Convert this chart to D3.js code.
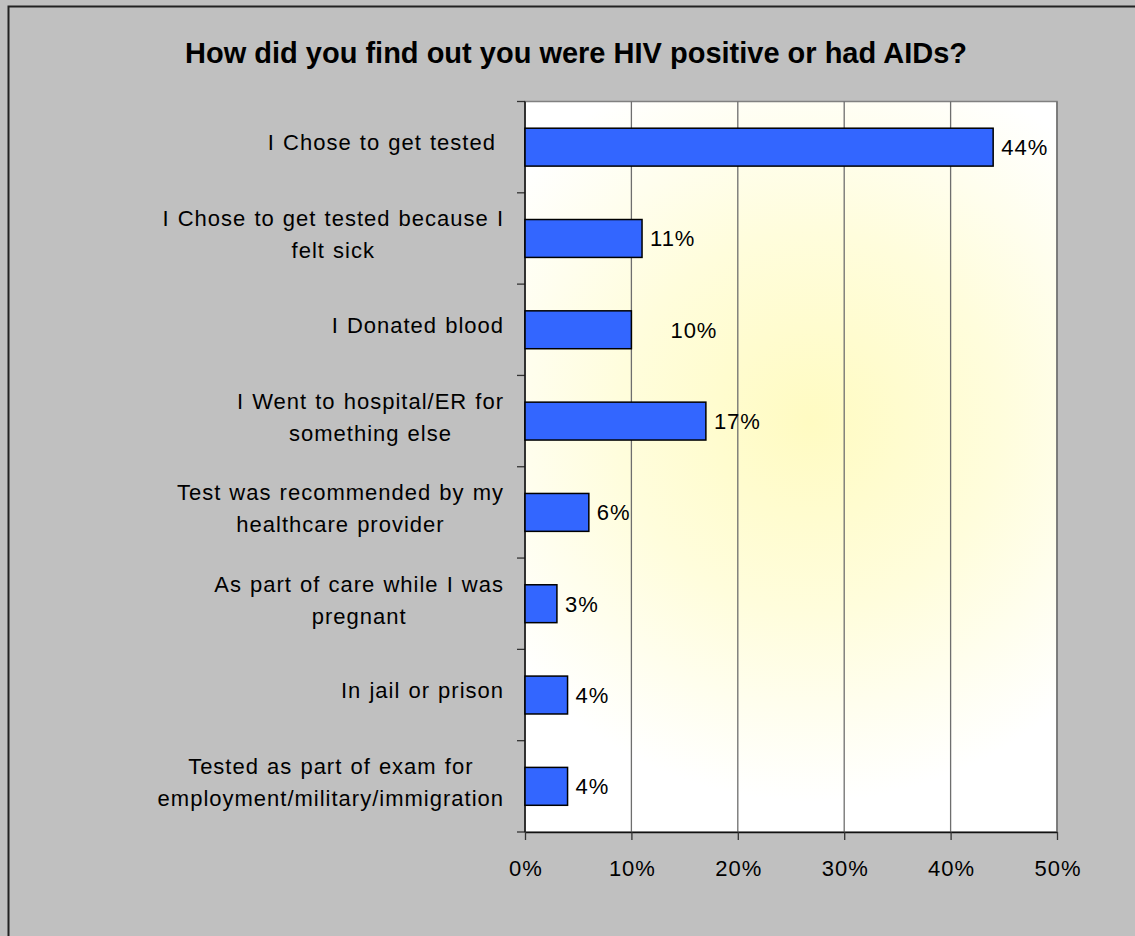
<!DOCTYPE html>
<html>
<head>
<meta charset="utf-8">
<script src="https://cdn.jsdelivr.net/npm/d3@7"></script>
<style>
  html, body { margin: 0; padding: 0; background: #c0c0c0; }
  svg { display: block; font-family: "Liberation Sans", Arial, sans-serif; }
</style>
</head>
<body>
<svg id="chart" width="1135" height="936"></svg>
<script>
const title = 'How did you find out you were HIV positive or had AIDs?';

const categories = [
  'I Chose to get tested ',
  'I Chose to get tested because I\nfelt sick',
  'I Donated blood',
  'I Went to hospital/ER for\nsomething else',
  'Test was recommended by my\nhealthcare provider',
  'As part of care while I was\npregnant',
  'In jail or prison',
  'Tested as part of exam for\nemployment/military/immigration'
];

const values = [44, 11, 10, 17, 6, 3, 4, 4];

const tickValues = [0, 10, 20, 30, 40, 50];

const data = categories.map((c, i) => ({ label: c, value: values[i] }));

const margin = { top: 101.5, right: 78, bottom: 104, left: 525 };
const fullWidth = 1135;
const fullHeight = 936;
const width = fullWidth - margin.left - margin.right;
const height = fullHeight - margin.top - margin.bottom;

const svg = d3.select('#chart');

// frame
svg.append('rect')
    .attr('x', 8.5)
    .attr('y', 6.5)
    .attr('width', 1200)
    .attr('height', 1000)
    .attr('fill', '#c0c0c0')
    .attr('stroke', '#222')
    .attr('stroke-width', 2);

svg.append('text')
    .attr('x', 576)
    .attr('y', 63)
    .attr('text-anchor', 'middle')
    .style('font-weight', 'bold')
    .style('font-size', '29px')
    .text(title);

const defs = svg.append('defs');
const grad = defs.append('radialGradient')
    .attr('id', 'glow')
    .attr('gradientUnits', 'userSpaceOnUse')
    .attr('cx', margin.left + 285)
    .attr('cy', margin.top + 320)
    .attr('r', 380);
grad.append('stop').attr('offset', '0%').attr('stop-color', '#fffbc2');
grad.append('stop').attr('offset', '50%').attr('stop-color', '#fffddc');
grad.append('stop').attr('offset', '100%').attr('stop-color', '#ffffff');

const g = svg.append('g')
    .attr('transform', `translate(${margin.left}, ${margin.top})`);

const x = d3.scaleLinear()
    .domain([0, 50])
    .range([0, width]);

const y = d3.scaleBand()
    .domain(d3.range(categories.length))
    .range([0, height])
    .paddingInner(0.585)
    .paddingOuter(0.2925);

// plot area
g.append('rect')
    .attr('width', width)
    .attr('height', height)
    .attr('fill', 'url(#glow)')
    .attr('transform', `translate(${-margin.left}, ${-margin.top})`)
    .attr('x', margin.left)
    .attr('y', margin.top)
    .attr('stroke', '#808080')
    .attr('stroke-width', 1.5);

// gridlines
g.selectAll('.grid')
    .data(tickValues.slice(1))
  .enter().append('line')
    .attr('class', 'grid')
    .attr('x1', d => x(d))
    .attr('x2', d => x(d))
    .attr('y1', 0)
    .attr('y2', height)
    .attr('stroke', '#6e6e6e')
    .attr('stroke-width', 1.3);

// x axis
const xAxis = g.append('g')
    .attr('transform', `translate(0, ${height})`)
    .call(d3.axisBottom(x)
      .tickValues(tickValues)
      .tickFormat(d => `${d}%`)
      .tickSizeInner(8)
      .tickSizeOuter(0)
      .tickPadding(20));
xAxis.select('.domain').attr('stroke', '#111').attr('stroke-width', 1.5);
xAxis.selectAll('.tick line').attr('stroke', '#333').attr('stroke-width', 1.3);
xAxis.selectAll('.tick text')
    .attr('fill', '#000')
    .attr('dx', '0.5px')
    .style('font-size', '22px')
    .style('letter-spacing', '1px')
    .style('font-family', '"Liberation Sans", Arial, sans-serif');

// y axis: ticks at category boundaries
const step = y.step();
g.selectAll('.ytick')
    .data(d3.range(categories.length + 1))
  .enter().append('line')
    .attr('class', 'ytick')
    .attr('x1', -8)
    .attr('x2', 0)
    .attr('y1', d => d * step)
    .attr('y2', d => d * step)
    .attr('stroke', '#333')
    .attr('stroke-width', 1.3);

g.append('line')
    .attr('x1', 0)
    .attr('x2', 0)
    .attr('y1', 0)
    .attr('y2', height)
    .attr('stroke', '#111')
    .attr('stroke-width', 1.5);

// bars
g.selectAll('.bar')
    .data(data)
  .enter().append('rect')
    .attr('class', 'bar')
    .attr('x', 0)
    .attr('y', (d, i) => y(i))
    .attr('width', d => x(d.value))
    .attr('height', y.bandwidth())
    .attr('fill', '#3366ff')
    .attr('stroke', '#000')
    .attr('stroke-width', 1.5);

// value labels (the 10% one sits further out in the original)
g.selectAll('.val')
    .data(data)
  .enter().append('text')
    .attr('class', 'val')
    .attr('x', d => x(d.value) + (d.label === 'I Donated blood' ? 39 : 8))
    .attr('y', (d, i) => y(i) + y.bandwidth() / 2 + 8)
    .style('font-size', '22px')
    .style('letter-spacing', '1px')
    .text(d => `${d.value}%`);

// category labels, wrapped lines centred as a block, right-aligned to the axis
const labelRight = -21;
data.forEach((d, i) => {
  const lines = d.label.split('\n');
  const cy = y(i) + y.bandwidth() / 2;
  const grp = g.append('g');
  const texts = lines.map((ln, j) => grp.append('text')
      .attr('y', cy + 3 - (lines.length - 1) * 15 + j * 32)
      .attr('text-anchor', 'middle')
      .style('font-size', '22px')
      .style('letter-spacing', '1px')
      .style('word-spacing', '1px')
      .style('white-space', 'pre')
      .text(ln));
  const maxW = d3.max(texts, t => t.node().getComputedTextLength());
  texts.forEach(t => t.attr('x', labelRight - maxW / 2));
});
</script>
</body>
</html>
